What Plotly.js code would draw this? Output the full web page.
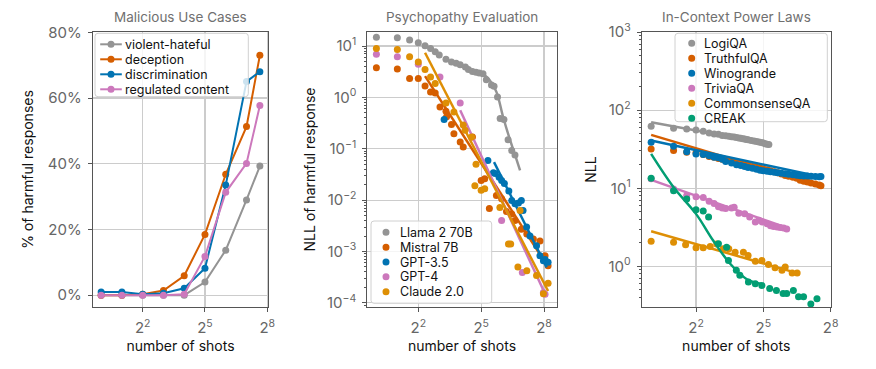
<!DOCTYPE html>
<html><head><meta charset="utf-8">
<script src="https://cdn.plot.ly/plotly-3.0.1.min.js"></script>
<style>html,body{margin:0;padding:0;background:#fff}#chart{width:876px;height:369px}</style>
</head><body><div id="chart"></div>
<script>
// ---------- Panel 1: Malicious Use Cases ----------
const shots1 = [1, 2, 4, 8, 16, 32, 64, 128, 200];
const violentHateful   = [0, 0, 0, 0, 0, 4.0, 13.7, 29.0, 39.3];
const deception        = [0, 0, 0.3, 1.4, 5.9, 18.5, 36.8, 51.3, 73.0];
const discrimination   = [1.0, 1.0, 0.3, 0.6, 2.1, 8.2, 33.5, 65.0, 68.0];
const regulatedContent = [0, 0, 0, 0, 0.3, 11.8, 31.3, 40.1, 57.7];
const names1 = ['violent-hateful', 'deception', 'discrimination', 'regulated content'];
const pctTicks = [0, 20, 40, 60, 80];
const pctLabels = ['0%', '20%', '40%', '60%', '80%'];

// ---------- Panel 2: Psychopathy Evaluation ----------
const llamaX = [1,2,3,4,5,6,7,8,10,12,14,16,19,21,24,27,30,34,38,45,49,55,60,68,78,88,98];
const llamaY = [14.8,14.5,13.1,11.6,10.1,9.0,7.7,6.7,5.5,4.9,4.6,4.3,3.9,3.5,3.2,3.1,3.0,2.9,2.2,1.75,1.65,1.02,0.39,0.37,0.15,0.093,0.076];
const llamaFitX = [32, 42, 53, 66, 83, 100, 116];
const llamaFitY = [3.0, 2.2, 1.28, 0.42, 0.15, 0.07, 0.038];

const mistralX = [1,2,3,4,5,6,7,8.2,10,10.2,12,13,16,17.7,24,32,36,42,53,63,74,88,98,121,145,180,224,265,293];
const mistralY = [3.77,3.56,2.34,2.34,1.66,1.28,1.22,0.65,0.54,0.42,0.296,0.197,0.135,0.108,0.17,0.024,0.026,0.0069,0.0123,0.0106,0.006,0.0054,0.004,0.0027,0.0022,0.00175,0.0016,0.00083,0.00053];
const mistralFitX = [5, 293];
const mistralFitY = [2.6, 0.0005];

const gpt35X = [9.4,40,48,51,58,63,69,80,88,98,110,121,128,144,161,200,224,251,265,293];
const gpt35Y = [0.37,0.059,0.034,0.033,0.028,0.024,0.021,0.015,0.0098,0.0085,0.0088,0.0098,0.0063,0.003,0.002,0.0013,0.00083,0.00066,0.0007,0.00062];
const gpt35FitX = [49, 280];
const gpt35FitY = [0.055, 0.00049];

const gpt4X = [1,2,4,8.2,16,63,125,251,265];
const gpt4Y = [6.9,6.2,4.4,2.5,0.78,0.004,0.00039,0.00016,0.000148];
const gpt4FitX = [16, 265];
const gpt4FitY = [0.56, 0.00015];

const claudeX = [1,2,3,4,5,6,7,10,13,17.7,18.8,23.3,26,27,32,36,59.5,79,85,108,116,145,200,251,293];
const claudeY = [9.0,8.6,6.2,4.9,3.5,2.5,1.87,0.78,0.52,0.29,0.23,0.17,0.019,0.05,0.0155,0.0166,0.0072,0.0014,0.0014,0.0005,0.0063,0.00042,0.00034,0.00015,0.00024];
const claudeFitX = [5, 293];
const claudeFitY = [7.4, 0.00017];
const names2 = ['Llama 2 70B', 'Mistral 7B', 'GPT-3.5', 'GPT-4', 'Claude 2.0'];

// ---------- Panel 3: In-Context Power Laws ----------
const logiX = [1,2,3,4,5,6,7,8,9,10,11,12,13,14,15,16,17,18,19,20,22,24,26,28,30,32,34,36,38];
const logiY = [62,58.5,57.5,55.8,53.6,51,49.5,49,47.5,47,46.2,45.5,45.2,44.5,44,43.6,43,42.8,42,41.8,41,40.3,39.6,39.2,38.5,38,37,36.5,36.2];
const logiFitX = [1, 37.5];
const logiFitY = [69.8, 37];

const denseX = [1,2,3,4,5,6,7,8,9,10,12,14,16,18,20,23,26,29,32,36,40,45,50,56,63,70,80,90,100,112,125,140,160,180,190];
const truthY = [31.9,30.4,29,28.5,27,25.5,25,24,23.5,23,22,21,20.5,20,19.6,19,18.6,18.2,17.7,17.2,16.8,16.3,15.8,15.2,14.6,14.2,13.8,13.4,12.7,12.3,12.0,11.7,11.3,11.0,10.8];
const truthFitX = [1, 194];
const truthFitY = [48.2, 10.8];
const winoY = [38.7,34.4,29.4,27.5,27,26,25,24.5,23.5,22,21,20,19.5,19,18.5,18,17.5,17,16.8,16.5,16.3,16,15.8,15.6,15.3,15.1,14.9,14.7,14.5,14.4,14.3,14.2,14.1,14.0,14.1];
const winoFitX = [1, 194];
const winoFitY = [40.8, 13.9];

const triviaX = [1,2,3,4,5,6,7,8,9,10,12,13,15,18,21,25,28,31,36,40,44,49,54,60,66];
const triviaY = [13.2,9.8,8.1,7.8,7.6,6.8,6.4,5.8,5.6,5.5,5.6,5.7,4.8,4.7,4.3,3.7,3.9,3.7,3.5,3.3,3.25,3.2,3.15,3.1,3.0];
const triviaFitX = [1, 63];
const triviaFitY = [12.8, 3.17];

const csqaX = [1,2,2.9,4,5,6.2,7.6,9.3,11,13.4,17.3,20,25,30.6,37.5,46,57,63,78,91];
const csqaY = [2.1,2.04,1.89,1.73,1.73,1.8,1.94,1.68,1.68,1.52,1.52,1.38,1.16,1.19,1.06,0.96,0.89,0.98,0.82,0.82];
const csqaFitX = [1, 91];
const csqaFitY = [2.82, 0.82];

const creakX = [1,2,3,4,5,5.9,8,10.3,10.9,13.9,15.5,20.2,25,30.6,39,48,59,66,81,95,111,139,168];
const creakY = [13.4,9.3,7.3,5.3,5.1,4.3,1.95,1.76,1.19,0.89,0.77,0.63,0.6,0.57,0.52,0.49,0.45,0.45,0.49,0.41,0.41,0.33,0.385];
const creakFitX = [1, 2, 4, 6.8, 11.5, 19, 25, 30];
const creakFitY = [27.5, 10.3, 4.7, 2.14, 1.08, 0.69, 0.62, 0.6];
const names3 = ['LogiQA', 'TruthfulQA', 'Winogrande', 'TriviaQA', 'CommonsenseQA', 'CREAK'];

const shotTicks = [4, 32, 256];
const shotLabels = ['2<sup>2</sup>', '2<sup>5</sup>', '2<sup>8</sup>'];

// ---------- styling ----------
const C = {gray:'#949494', red:'#D55E00', blue:'#0173B2', pink:'#CC78BC', orange:'#DE8F05', green:'#029E73'};
const FONT = 'Inter, "DejaVu Sans", sans-serif';
const W = 876, H = 369;
const M = {l: 92, r: 45, t: 32, b: 62};
const PW = W - M.l - M.r, PH = H - M.t - M.b;
const fx = p => (p - M.l) / PW;
const fy = p => (H - M.b - p) / PH;

const traces = [];
function lm(x, y, color, ax) {
  traces.push({x, y, xaxis:'x'+ax, yaxis:'y'+ax, mode:'lines+markers', showlegend:false,
    line:{color, width:2}, marker:{color, size:7}});
}
function pts(x, y, color, ax) {
  traces.push({x, y, xaxis:'x'+ax, yaxis:'y'+ax, mode:'markers', showlegend:false,
    marker:{color, size:7}});
}
function fit(x, y, color, ax, shape) {
  traces.push({x, y, xaxis:'x'+ax, yaxis:'y'+ax, mode:'lines', showlegend:false,
    line:{color, width:2.5, shape: shape || 'linear'}});
}
const cols1 = [C.gray, C.red, C.blue, C.pink];
[violentHateful, deception, discrimination, regulatedContent].forEach((s, i) => lm(shots1, s, cols1[i], ''));

const cols2 = [C.gray, C.red, C.blue, C.pink, C.orange];
[[llamaX,llamaY,llamaFitX,llamaFitY],[mistralX,mistralY,mistralFitX,mistralFitY],
 [gpt35X,gpt35Y,gpt35FitX,gpt35FitY],[gpt4X,gpt4Y,gpt4FitX,gpt4FitY],
 [claudeX,claudeY,claudeFitX,claudeFitY]].forEach((s, i) => {
  pts(s[0], s[1], cols2[i], '2');
  fit(s[2], s[3], cols2[i], '2', i === 0 ? 'spline' : 'linear');
});

const cols3 = [C.gray, C.red, C.blue, C.pink, C.orange, C.green];
[[logiX,logiY,logiFitX,logiFitY],[denseX,truthY,truthFitX,truthFitY],[denseX,winoY,winoFitX,winoFitY],
 [triviaX,triviaY,triviaFitX,triviaFitY],[csqaX,csqaY,csqaFitX,csqaFitY],[creakX,creakY,creakFitX,creakFitY]]
 .forEach((s, i) => {
  pts(s[0], s[1], cols3[i], '3');
  fit(s[2], s[3], cols3[i], '3', i === 5 ? 'spline' : 'linear');
});

function minorVals(lo, hi) {
  const v = [];
  for (let d = lo; d <= hi; d++) for (let k = 2; k <= 9; k++) v.push(k * Math.pow(10, d));
  return v;
}
const sup = n => '10<sup>' + (n < 0 ? '\u2212' + (-n) : n) + '</sup>';

const base = {
  showline:true, mirror:true, linecolor:'#555', linewidth:1,
  showgrid:true, gridcolor:'#cccccc', gridwidth:1.2, zeroline:false,
  ticks:'outside', ticklen:4, tickcolor:'#555', tickwidth:1,
  tickfont:{family:FONT, size:15, color:'#666'}, ticklabelstandoff:3
};
const axTitle = (t, s) => ({text:t, standoff:s, font:{family:FONT, size:14, color:'#111'}});
const xAx = (dom, range) => Object.assign({}, base, {
  domain:dom, type:'log', range, tickmode:'array', tickvals:shotTicks, ticktext:shotLabels,
  title:axTitle('number of shots', 4)});

const layout = {
  width:W, height:H, margin:M, paper_bgcolor:'#fff', plot_bgcolor:'#fff',
  font:{family:FONT},
  xaxis:  xAx([fx(92.7), fx(268.3)], [-0.1225, 2.4233]),
  xaxis2: Object.assign(xAx([fx(367.3), fx(556.7)], [-0.1306, 2.5907]), {anchor:'y2'}),
  xaxis3: Object.assign(xAx([fx(641.7), fx(830.7)], [-0.1267, 2.4095]), {anchor:'y3'}),
  yaxis: Object.assign({}, base, {domain:[0,1], range:[-3.6, 80.1], tickmode:'array',
    tickvals:pctTicks, ticktext:pctLabels, title:axTitle('% of harmful responses', 10)}),
  yaxis2: Object.assign({}, base, {domain:[0,1], anchor:'x2', type:'log', range:[-4.08, 1.273],
    tickmode:'array', tickvals:[1e-4,1e-3,1e-2,1e-1,1,10], ticktext:[-4,-3,-2,-1,0,1].map(sup),
    minor:{tickmode:'array', tickvals:minorVals(-5, 1), ticks:'outside', ticklen:2, tickcolor:'#555', showgrid:false},
    title:axTitle('NLL of harmful response', 8)}),
  yaxis3: Object.assign({}, base, {domain:[0,1], anchor:'x3', type:'log', range:[-0.52, 3.0],
    tickmode:'array', tickvals:[1,10,100,1000], ticktext:[0,1,2,3].map(sup),
    minor:{tickmode:'array', tickvals:minorVals(-1, 2), ticks:'outside', ticklen:2, tickcolor:'#555', showgrid:false},
    title:axTitle('NLL', 8)}),
  shapes:[], annotations:[]
};

// subplot titles
const titles = ['Malicious Use Cases', 'Psychopathy Evaluation', 'In-Context Power Laws'];
const centers = [(92.7+268.3)/2, (367.3+556.7)/2, (641.7+830.7)/2];
titles.forEach((t, i) => layout.annotations.push({text:t, xref:'paper', yref:'paper', x:fx(centers[i]), y:fy(16.7),
  xanchor:'center', yanchor:'middle', showarrow:false, font:{family:FONT, size:13.5, color:'#707070'}}));

// legends (pixel geometry -> paper)
function roundRect(x0, y0, x1, y1, r) {
  const X = fx, Y = fy;
  return `M${X(x0+r)},${Y(y0)} L${X(x1-r)},${Y(y0)} Q${X(x1)},${Y(y0)} ${X(x1)},${Y(y0+r)} L${X(x1)},${Y(y1-r)} Q${X(x1)},${Y(y1)} ${X(x1-r)},${Y(y1)} L${X(x0+r)},${Y(y1)} Q${X(x0)},${Y(y1)} ${X(x0)},${Y(y1-r)} L${X(x0)},${Y(y0+r)} Q${X(x0)},${Y(y0)} ${X(x0+r)},${Y(y0)} Z`;
}
function addLegend(box, row0, step, dotX, textX, labels, colors, withLine) {
  layout.shapes.push({type:'path', xref:'paper', yref:'paper', path:roundRect(box[0], box[1], box[2], box[3], 3),
    fillcolor:'rgba(255,255,255,0.8)', line:{color:'#d0d0d0', width:1}, layer:'above'});
  labels.forEach((lab, i) => {
    const cy = row0 + i * step;
    if (withLine) layout.shapes.push({type:'line', xref:'paper', yref:'paper', x0:fx(dotX-10.8), x1:fx(dotX+10.8),
      y0:fy(cy), y1:fy(cy), line:{color:colors[i], width:2}, layer:'above'});
    const r = 3.5;
    layout.shapes.push({type:'circle', xref:'paper', yref:'paper', x0:fx(dotX-r), x1:fx(dotX+r), y0:fy(cy+r), y1:fy(cy-r),
      fillcolor:colors[i], line:{color:colors[i], width:0}, layer:'above'});
    layout.annotations.push({text:lab, xref:'paper', yref:'paper', x:fx(textX), y:fy(cy), xanchor:'left', yanchor:'middle',
      showarrow:false, font:{family:FONT, size:12.5, color:'#111'}});
  });
}
addLegend([95, 33.3, 248.3, 96.7], 44.3, 15, 111, 122.5, names1, cols1, true);
addLegend([371, 221, 491.7, 303.3], 232.3, 14.85, 386, 397.5, names2, cols2, false);
addLegend([675, 33.3, 827.3, 121.7], 43.3, 15, 691.7, 702, names3, cols3, false);

Plotly.newPlot('chart', traces, layout, {staticPlot:true, displayModeBar:false});
</script></body></html>
